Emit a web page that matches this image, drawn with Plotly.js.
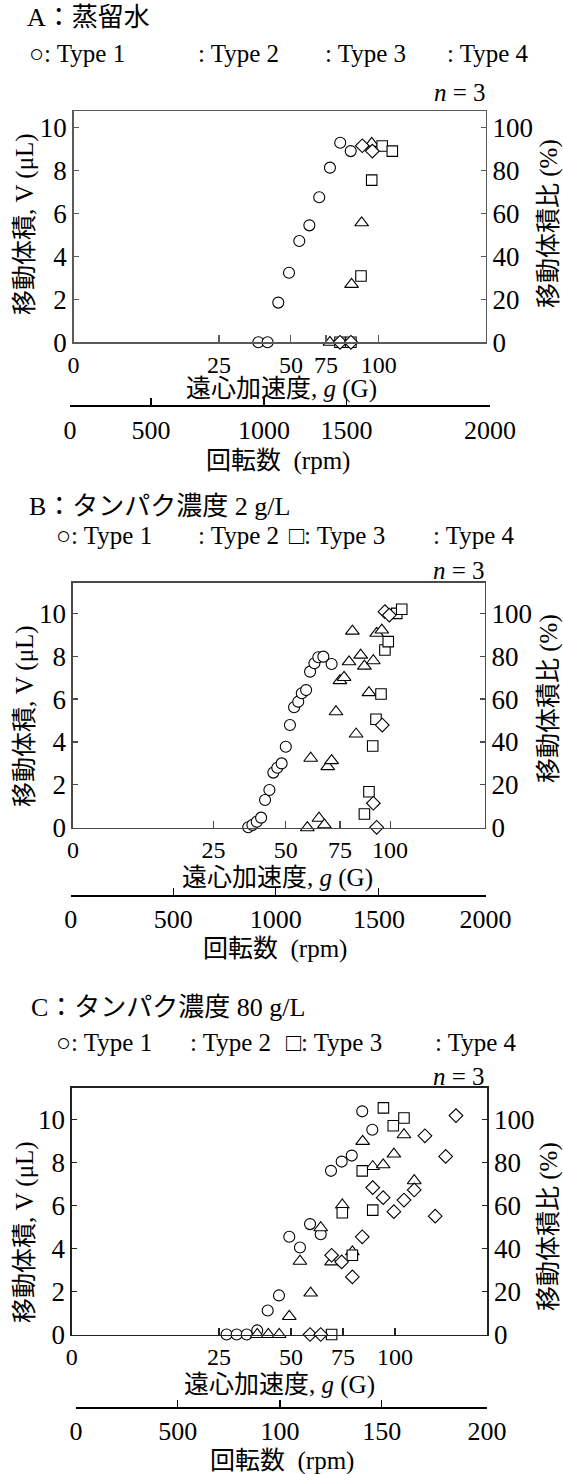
<!DOCTYPE html>
<html><head><meta charset="utf-8">
<script src="https://cdn.plot.ly/plotly-3.0.1.min.js"></script>
<style>html,body{margin:0;padding:0;background:#fff}</style>
</head><body><div id="chart" style="width:563px;height:1474px"></div>
<script>
// ---- DATA (x: rotation position on a linear rpm scale, y: moved volume V in µL) ----
// Panel A : distilled water
const A_t1_x = [897, 941, 992, 1043, 1092, 1140, 1187, 1238, 1287, 1337];
const A_t1_y = [0, 0, 1.85, 3.24, 4.72, 5.45, 6.76, 8.14, 9.30, 8.91];
const A_t2_x = [1238, 1341, 1389, 1437];
const A_t2_y = [0, 2.70, 5.57, 9.27];
const A_t3_x = [1286, 1338, 1386, 1437, 1487, 1535];
const A_t3_y = [0, 0, 3.09, 7.56, 9.15, 8.91];
const A_t4_x = [1286, 1338, 1392, 1440];
const A_t4_y = [0, 0, 9.16, 8.91];

// Panel B : protein 2 g/L
const B_t1_x = [856, 876, 897, 918, 937, 958, 977, 996, 1017, 1037, 1057, 1077, 1097, 1114, 1135, 1154, 1175, 1194, 1218, 1258];
const B_t1_y = [0.02, 0.13, 0.28, 0.47, 1.29, 1.76, 2.57, 2.80, 3.00, 3.78, 4.79, 5.62, 5.88, 6.27, 6.42, 7.28, 7.67, 7.95, 7.98, 7.64];
const B_t2_x = [1141, 1197, 1223, 1157, 1239, 1258, 1279, 1298, 1318, 1342, 1358, 1376, 1398, 1416, 1438, 1459, 1475, 1500];
const B_t2_y = [0.0, 0.44, 0.13, 3.24, 2.85, 3.13, 5.41, 6.86, 7.01, 7.74, 9.17, 4.37, 8.05, 7.54, 6.30, 7.79, 9.07, 9.22];
const B_t3_x = [1416, 1438, 1456, 1472, 1496, 1515, 1531, 1572, 1596];
const B_t3_y = [0.64, 1.68, 3.81, 5.06, 6.24, 8.29, 8.68, 10.0, 10.19];
const B_t4_x = [1475, 1459, 1502, 1515, 1536];
const B_t4_y = [0.02, 1.14, 4.79, 10.08, 9.92];

// Panel C : protein 80 g/L
const C_t1_x = [733, 782, 831, 882, 933, 988, 1038, 1090, 1139, 1191, 1241, 1293, 1342, 1393, 1442];
const C_t1_y = [0, 0, 0, 0.19, 1.12, 1.82, 4.55, 4.05, 5.14, 4.67, 7.62, 8.05, 8.33, 10.39, 9.53];
const C_t2_x = [882, 936, 989, 1038, 1090, 1142, 1191, 1244, 1296, 1345, 1395, 1444, 1495, 1547, 1596, 1646];
const C_t2_y = [0, 0, 0, 0.84, 3.41, 1.93, 4.97, 3.38, 6.03, 3.85, 8.99, 7.82, 7.90, 8.40, 9.30, 7.16];
const C_t3_x = [1244, 1296, 1345, 1393, 1444, 1496, 1544, 1596];
const C_t3_y = [0, 5.67, 3.69, 7.62, 5.79, 10.55, 9.72, 10.08];
const C_t4_x = [1139, 1191, 1244, 1293, 1345, 1393, 1444, 1495, 1547, 1596, 1646, 1698, 1748, 1799, 1849];
const C_t4_y = [0, 0, 3.69, 3.38, 2.68, 4.55, 6.84, 6.37, 5.72, 6.26, 6.73, 9.25, 5.51, 8.29, 10.19];

// ---- TICKS ----
const gTickText = ['0', '25', '50', '75', '100'];
const A_gTickVals = [17, 710, 1052, 1219, 1471];
const B_gTickVals = [10.6, 689, 1037, 1298, 1540];
const C_gTickVals = [-20, 696, 1046, 1299, 1552];
const A_rpmTickVals = [0, 386, 924, 1317, 2000];
const B_rpmTickVals = [0, 495, 989, 1486, 2000];
const C_rpmTickVals = [0, 495, 993, 1488, 2000];
const AB_rpmTickText = ['0', '500', '1000', '1500', '2000'];
const C_rpmTickText = ['0', '500', '100', '150', '200'];
const leftTicks = [0, 2, 4, 6, 8, 10];
const rightTicks = [0, 20, 40, 60, 80, 100];

// ---- LAYOUT HELPERS ----
const W = 563, H = 1474;
const SERIF = 'Liberation Serif, "Noto Sans CJK JP", serif';
const px = v => v / W;
const py = v => 1 - v / H;

const traces = [];
function addPanel(sets, xa, ya) {
  const styles = [
    {symbol: 'circle', size: 11},
    {symbol: 'triangle-up', size: 12},
    {symbol: 'square', size: 10.5},
    {symbol: 'diamond', size: 10.5}
  ];
  sets.forEach((s, i) => {
    traces.push({
      type: 'scatter', mode: 'markers', x: s[0], y: s[1], xaxis: xa, yaxis: ya,
      cliponaxis: false, hoverinfo: 'skip', showlegend: false,
      marker: {symbol: styles[i].symbol, size: styles[i].size, color: 'white',
               line: {color: 'black', width: 1.1}}
    });
  });
}
addPanel([[A_t1_x, A_t1_y], [A_t2_x, A_t2_y], [A_t3_x, A_t3_y], [A_t4_x, A_t4_y]], 'x', 'y');
addPanel([[B_t1_x, B_t1_y], [B_t2_x, B_t2_y], [B_t3_x, B_t3_y], [B_t4_x, B_t4_y]], 'x3', 'y4');
addPanel([[C_t1_x, C_t1_y], [C_t2_x, C_t2_y], [C_t3_x, C_t3_y], [C_t4_x, C_t4_y]], 'x5', 'y7');
// empty traces so the right-hand and rpm axes get drawn
[['x', 'y2'], ['x3', 'y5'], ['x5', 'y8'], ['x2', 'y3'], ['x4', 'y6'], ['x6', 'y9']].forEach(p =>
  traces.push({type: 'scatter', mode: 'markers', x: [], y: [], xaxis: p[0], yaxis: p[1], showlegend: false, hoverinfo: 'skip'}));

function gAxis(l, r, range, tickvals, anchor, color) {
  return {domain: [px(l), px(r)], range: range, tickmode: 'array', tickvals: tickvals, ticktext: gTickText,
    ticks: 'inside', ticklen: 7, tickcolor: color, tickwidth: 1.2, showline: true, linecolor: color, linewidth: 1.5,
    mirror: true, showgrid: false, zeroline: false, anchor: anchor, fixedrange: true,
    tickfont: {family: SERIF, size: 24, color: 'black'}};
}
function yLeft(bot, top, maxv, anchor, color) {
  return {domain: [py(bot), py(top)], range: [0, maxv], tickmode: 'array', tickvals: leftTicks,
    ticks: 'inside', ticklen: 5, tickcolor: color, tickwidth: 1.2, showline: true, linecolor: color, linewidth: 1.5,
    showgrid: false, zeroline: false, anchor: anchor, fixedrange: true,
    tickfont: {family: SERIF, size: 27, color: 'black'}};
}
function yRight(maxv, over, anchor, color) {
  return {overlaying: over, side: 'right', range: [0, maxv * 10], tickmode: 'array', tickvals: rightTicks,
    ticks: 'inside', ticklen: 5, tickcolor: color, tickwidth: 1.2, showline: true, linecolor: color, linewidth: 1.5,
    showgrid: false, zeroline: false, anchor: anchor, fixedrange: true,
    tickfont: {family: SERIF, size: 27, color: 'black'}};
}
function rpmAxis(l, r, tickvals, ticktext, anchor, standoff) {
  return {domain: [px(l), px(r)], range: [0, 2000], tickmode: 'array', tickvals: tickvals, ticktext: ticktext,
    ticks: 'inside', ticklen: 7, tickcolor: 'black', tickwidth: 1.2, showline: true, linecolor: 'black', linewidth: 1.5,
    showgrid: false, zeroline: false, anchor: anchor, fixedrange: true, ticklabelstandoff: standoff,
    tickfont: {family: SERIF, size: 26, color: 'black'}};
}
function dummyY(lineY) {
  return {domain: [py(lineY), py(lineY - 10)], range: [0, 1], visible: false, fixedrange: true};
}

const frameA = '#5a5a5a', frameB = '#4a4a4a', frameC = '#222222';
const A_top = 10.78, B_top = 11.43, C_top = 11.49;

const annotations = [];
function txt(text, x, y, opts) {
  annotations.push(Object.assign({text: text, x: px(x), y: py(y), xref: 'paper', yref: 'paper', showarrow: false,
    xanchor: 'left', yanchor: 'middle', font: {family: SERIF, size: 25, color: 'black'}}, opts || {}));
}
function panelTexts(o) {
  txt(o.title, o.tx, o.ty, {font: {family: SERIF, size: 26, color: 'black'}});
  o.legend.forEach(l => txt(l[0], l[1], o.ly));
  txt('<i>n</i> = 3', o.nx, o.ny, {xanchor: 'right'});
  txt('移動体積, V (μL)', 25, o.lty, {xanchor: 'center', textangle: -90, font: {family: SERIF, size: 25, color: 'black'}});
  txt('移動体積比 (%)', 549, o.rty, {xanchor: 'center', textangle: -90, font: {family: SERIF, size: 25, color: 'black'}});
  txt('遠心加速度, <i>g</i> (G)', o.gx, o.gy, {xanchor: 'center', font: {family: SERIF, size: 25, color: 'black'}});
  txt('回転数  (rpm)', o.rx, o.ry, {xanchor: 'center', font: {family: SERIF, size: 25, color: 'black'}});
}
panelTexts({title: 'A：蒸留水', tx: 25, ty: 17, ly: 53,
  legend: [['○: Type 1', 27], [': Type 2', 196], [': Type 3', 323], [': Type 4', 445]],
  nx: 488, ny: 92, lty: 224, rty: 224, gx: 281, gy: 389, rx: 278, ry: 461});
panelTexts({title: 'B：タンパク濃度 2 g/L', tx: 27, ty: 507, ly: 535,
  legend: [['○: Type 1', 54], [': Type 2', 196], ['□: Type 3', 287], [': Type 4', 431]],
  nx: 487, ny: 570, lty: 716, rty: 699, gx: 277.5, gy: 878, rx: 274.5, ry: 949});
panelTexts({title: 'C：タンパク濃度 80 g/L', tx: 29, ty: 1007, ly: 1042,
  legend: [['○: Type 1', 54], [': Type 2', 188], ['□: Type 3', 284], [': Type 4', 433]],
  nx: 487, ny: 1076, lty: 1232, rty: 1227, gx: 279.5, gy: 1385, rx: 281.5, ry: 1461});

const layout = {
  width: W, height: H, margin: {l: 0, r: 0, t: 0, b: 0}, paper_bgcolor: 'white', plot_bgcolor: 'rgba(0,0,0,0)',
  showlegend: false, font: {family: SERIF, color: 'black'},
  // Panel A
  xaxis: gAxis(73.6, 485.5, [17, 1979], A_gTickVals, 'y', frameA),
  yaxis: yLeft(342.3, 111, A_top, 'x', frameA),
  yaxis2: yRight(A_top, 'y', 'x', frameA),
  xaxis2: rpmAxis(70, 490, A_rpmTickVals, AB_rpmTickText, 'y3', 1),
  yaxis3: dummyY(405),
  // Panel B
  xaxis3: gAxis(72.9, 484.7, [10.6, 1996], B_gTickVals, 'y4', frameB),
  yaxis4: yLeft(827.7, 582.7, B_top, 'x3', frameB),
  yaxis5: yRight(B_top, 'y4', 'x3', frameB),
  xaxis4: rpmAxis(70.7, 485.5, B_rpmTickVals, AB_rpmTickText, 'y6', 0),
  yaxis6: dummyY(895),
  // Panel C
  xaxis5: gAxis(71.8, 487, [-20, 2000], C_gTickVals, 'y7', frameC),
  yaxis7: yLeft(1334.5, 1087.7, C_top, 'x5', frameC),
  yaxis8: yRight(C_top, 'y7', 'x5', frameC),
  xaxis6: rpmAxis(76, 487, C_rpmTickVals, C_rpmTickText, 'y9', 0),
  yaxis9: dummyY(1407),
  annotations: annotations
};

Plotly.newPlot('chart', traces, layout, {staticPlot: true, displayModeBar: false});
</script>
</body></html>
